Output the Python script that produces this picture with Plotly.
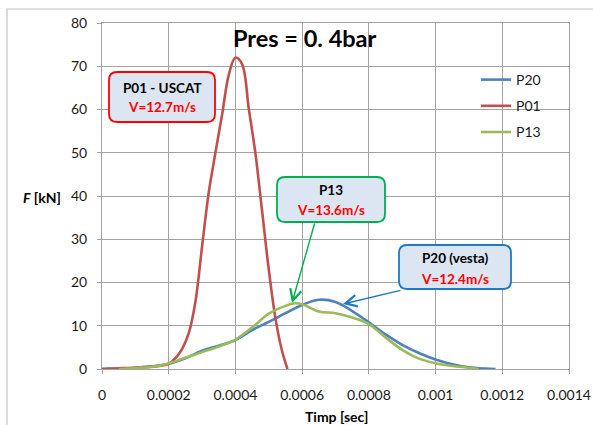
import plotly.graph_objects as go

# ---------------- data ----------------
t_p20_us = [0, 50, 100, 150, 200, 250, 300, 350, 400, 450, 500, 550, 600, 650, 700,
            750, 800, 850, 900, 950, 1000, 1050, 1100, 1150, 1180]
f_p20 = [0, 0.1, 0.3, 0.6, 1.2, 2.5, 4.2, 5.4, 6.7, 9.0, 10.9, 12.9, 14.8, 16.0, 15.5,
         13.4, 10.8, 8.0, 5.6, 3.7, 2.2, 1.1, 0.4, 0.1, 0]

t_p01_us = [0, 20, 40, 60, 80, 100, 120, 140, 160, 180, 200, 220, 240, 260, 280, 300,
            320, 340, 360, 380, 400, 420, 440, 460, 480, 500, 520, 540, 556]
f_p01 = [0, 0.1, 0.1, 0.2, 0.2, 0.3, 0.4, 0.5, 0.6, 0.8, 1.2, 2.5, 4.6, 8.3, 15.5, 28.3,
         40.8, 50.0, 58.8, 68.0, 72.0, 70.5, 60.2, 49.8, 36.5, 23.0, 11.7, 4.1, 0]

t_p13_us = [50, 100, 150, 200, 250, 300, 350, 400, 450, 500, 550, 580, 600, 650, 700,
            750, 800, 850, 900, 950, 1000, 1050, 1100, 1130]
f_p13 = [0, 0.2, 0.5, 1.3, 2.6, 3.9, 5.2, 6.8, 9.6, 12.8, 14.6, 15.2, 15.0, 13.3, 12.9,
         11.9, 10.4, 7.3, 4.4, 2.4, 1.35, 0.7, 0.3, 0]

x_tick_vals = [0, 0.0002, 0.0004, 0.0006, 0.0008, 0.001, 0.0012, 0.0014]
x_tick_text = ["0", "0.0002", "0.0004", "0.0006", "0.0008", "0.001", "0.0012", "0.0014"]
y_tick_vals = [0, 10, 20, 30, 40, 50, 60, 70, 80]

title_text = "Pres = 0. 4bar"
x_title = "Timp [sec]"
y_title = "<b><i>F</i> [kN]</b>"

# ---------------- layout geometry ----------------
W, H = 593, 425
L, R, T, B = 102, 24, 23, 56
PW, PH = W - L - R, H - T - B
FONT = "Lato, 'Open Sans', sans-serif"


def px(xp):
    return (xp - L) / PW


def py(yp):
    return (H - B - yp) / PH


def rounded_box(x0, y0, x1, y1, r=8):
    # pixel coords (y down) -> paper path
    rx, ry = r / PW, r / PH
    X0, X1 = px(x0), px(x1)
    Yt, Yb = py(y0), py(y1)
    return (f"M {X0+rx},{Yt} L {X1-rx},{Yt} Q {X1},{Yt} {X1},{Yt-ry} "
            f"L {X1},{Yb+ry} Q {X1},{Yb} {X1-rx},{Yb} L {X0+rx},{Yb} "
            f"Q {X0},{Yb} {X0},{Yb+ry} L {X0},{Yt-ry} Q {X0},{Yt} {X0+rx},{Yt} Z")


def us(v):
    return [t * 1e-6 for t in v]


fig = go.Figure()
series = [("P20", t_p20_us, f_p20, "#4F81BD"),
          ("P01", t_p01_us, f_p01, "#C0504D"),
          ("P13", t_p13_us, f_p13, "#9BBB59")]
for name, t, f, c in series:
    fig.add_trace(go.Scatter(x=us(t), y=f, name=name, mode="lines",
                             legendgroup=name,
                             line=dict(color=c, width=2.6, shape="spline", smoothing=1)))

grid = "#a3a3a3"
TXT = "#1a1a1a"
fig.update_layout(
    width=W, height=H,
    margin=dict(l=L, r=R, t=T, b=B, pad=0, autoexpand=False),
    paper_bgcolor="white", plot_bgcolor="white",
    font=dict(family=FONT, size=14, color=TXT),
    showlegend=True,
    legend=dict(x=px(476), y=py(64), xanchor="left", yanchor="top",
                font=dict(size=14, color=TXT), bgcolor="rgba(0,0,0,0)",
                traceorder="grouped", tracegroupgap=5, itemwidth=30),
    xaxis=dict(range=[0, 0.0014], tickvals=x_tick_vals, ticktext=x_tick_text,
               automargin=False,
               showgrid=True, gridcolor=grid, gridwidth=1, zeroline=False,
               showline=True, linecolor=grid, linewidth=1, mirror=True,
               ticks="outside", ticklen=4, tickcolor=grid, ticklabelstandoff=9,
               tickfont=dict(size=14, color=TXT)),
    yaxis=dict(range=[0, 80], tickvals=y_tick_vals, automargin=False,
               showgrid=True, gridcolor=grid, gridwidth=1, zeroline=False,
               showline=True, linecolor=grid, linewidth=1, mirror=True,
               ticks="outside", ticklen=4, tickcolor=grid, ticklabelstandoff=7,
               tickfont=dict(size=14, color=TXT)),
)

shapes = []
# outer chart frame (top & left edges visible)
shapes.append(dict(type="path", xref="paper", yref="paper",
                   path=f"M {px(7)},{py(430)} L {px(7)},{py(9)} L {px(600)},{py(9)}",
                   line=dict(color="#c4c4c4", width=1.2), layer="below"))
boxes = [((109, 72, 215, 122), "#FF0000"),
         ((277, 177, 385, 222), "#00B050"),
         ((399, 245, 511, 289), "#1F7AC4")]
for (bx0, by0, bx1, by1), col in boxes:
    shapes.append(dict(type="path", xref="paper", yref="paper",
                       path=rounded_box(bx0, by0, bx1, by1),
                       line=dict(color=col, width=1.8), fillcolor="#DCE6F2", layer="above"))
fig.update_layout(shapes=shapes)

ann = []
ann.append(dict(text="<b>" + title_text + "</b>", xref="paper", yref="paper",
                x=px(305), y=py(38), showarrow=False, xanchor="center", yanchor="middle",
                font=dict(size=23.5, color="#000000")))
ann.append(dict(text=y_title, xref="paper", yref="paper", x=px(42), y=py(197),
                showarrow=False, xanchor="center", yanchor="middle",
                font=dict(size=14, color="#000000")))
ann.append(dict(text="<b>" + x_title + "</b>", xref="paper", yref="paper", x=px(336), y=py(416),
                showarrow=False, xanchor="center", yanchor="middle",
                font=dict(size=14, color="#000000")))
labels = [("P01 - USCAT", "V=12.7m/s", 162, 88, 107),
          ("P13", "V=13.6m/s", 331, 190, 210),
          ("P20 (vesta)", "V=12.4m/s", 455, 258, 279)]
for l1, l2, cx, y1, y2 in labels:
    ann.append(dict(text="<b>" + l1 + "</b>", xref="paper", yref="paper", x=px(cx), y=py(y1),
                    showarrow=False, xanchor="center", yanchor="middle",
                    font=dict(size=13.5, color="#000000")))
    ann.append(dict(text="<b>" + l2 + "</b>", xref="paper", yref="paper", x=px(cx), y=py(y2),
                    showarrow=False, xanchor="center", yanchor="middle",
                    font=dict(size=13.5, color="#FF0000")))
# arrows
ann.append(dict(text="", xref="paper", yref="paper", x=px(292), y=py(303),
                ax=315 - 292, ay=222 - 303, showarrow=True, arrowhead=5, arrowsize=1.6,
                arrowwidth=1.4, arrowcolor="#00B050", standoff=0))
ann.append(dict(text="", xref="paper", yref="paper", x=px(343), y=py(304),
                ax=402 - 343, ay=290 - 304, showarrow=True, arrowhead=5, arrowsize=1.6,
                arrowwidth=1.4, arrowcolor="#1F7AC4", standoff=0))
fig.update_layout(annotations=ann)

fig.write_html("out.html", config={"displayModeBar": False},
               post_script="document.body.style.margin='0px';document.body.style.overflow='hidden';")
